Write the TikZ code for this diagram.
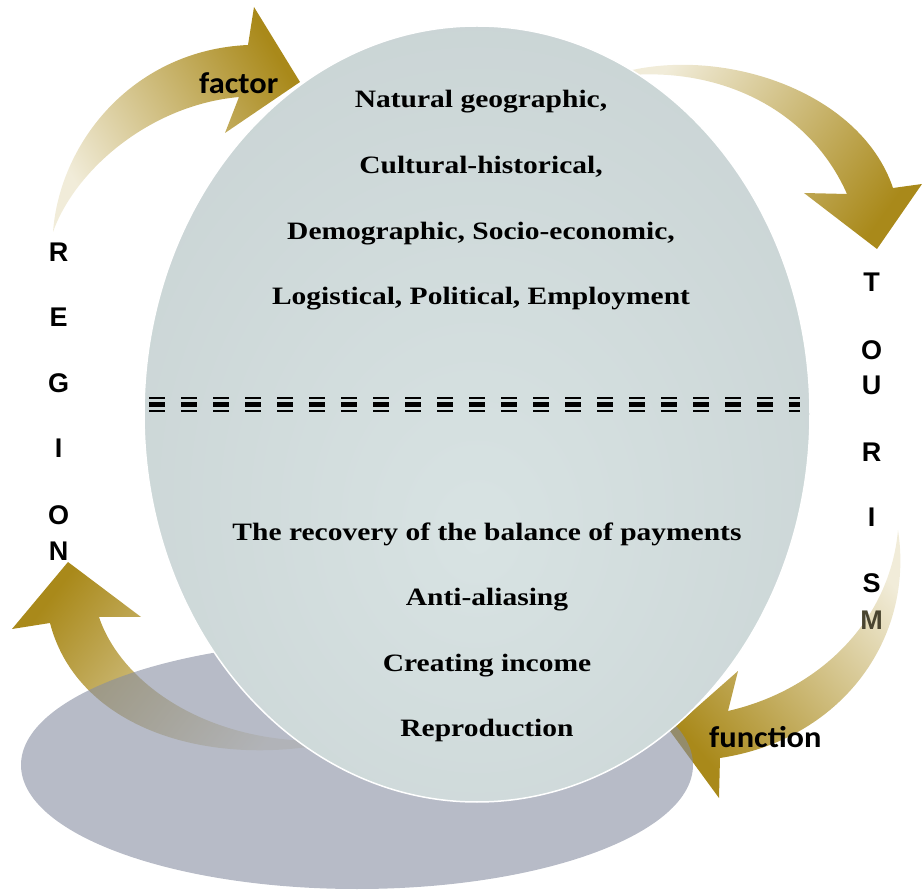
\documentclass[tikz,border=0pt]{standalone}
\usepackage{fontspec}
\setmainfont{Liberation Serif}
\newfontfamily\itemserif[FakeStretch=1.18]{Liberation Serif}
\newfontfamily\lettersans{Liberation Sans}
\newfontfamily\labelsans[FakeStretch=1.08]{Carlito}
\definecolor{goldlight}{HTML}{F1ECD9}
\definecolor{golddark}{HTML}{A9891A}
\definecolor{orbcentre}{HTML}{D8E3E3}
\definecolor{orbedge}{HTML}{C2CCCD}
\definecolor{shadowblue}{HTML}{878EA2}
\definecolor{dimletter}{HTML}{4A4530}
\pgfdeclareradialshading{orbglow}{\pgfpoint{0bp}{-8bp}}{color(0bp)=(orbcentre); color(50bp)=(orbedge); color(70bp)=(orbedge)}
\begin{document}
\begin{tikzpicture}[x=1pt,y=-1pt,
  itemtext/.style={font=\itemserif\fontsize{25}{30}\selectfont\bfseries, anchor=base, inner sep=0pt},
  letterbox/.style={font=\lettersans\fontsize{27}{32}\selectfont\bfseries, anchor=base, inner sep=0pt},
  arrowlabel/.style={font=\labelsans\fontsize{30}{36}\selectfont\bfseries, anchor=base west, inner sep=0pt},
  goldarrow/.style={top color=goldlight, bottom color=golddark},
  sepline/.style={black, dash pattern=on 16pt off 16pt}]
\useasboundingbox (0,0) rectangle (922,890);

% curved block arrows
\shade[goldarrow, shading angle=121]
  (53,232) .. controls (60,140) and (135,50) .. (248,45)
  -- (254,7) -- (300,82) -- (225,133) -- (239,97)
  .. controls (150,105) and (75,170) .. (53,232) -- cycle;
\shade[goldarrow, shading angle=54]
  (620,73) .. controls (720,45) and (860,90) .. (893,188)
  -- (922,184) -- (877,249) -- (804,193) -- (847,194)
  .. controls (810,110) and (720,65) .. (620,76) -- cycle;
\shade[goldarrow, shading angle=-49]
  (898,530) .. controls (915,640) and (840,740) .. (720,758)
  -- (719,798) -- (670,731) -- (738,671) -- (728,711)
  .. controls (820,690) and (890,620) .. (898,530) -- cycle;
\shade[goldarrow, shading angle=-128]
  (68,562) -- (141,617) -- (99,617)
  .. controls (120,680) and (200,740) .. (315,741) -- (315,746)
  .. controls (190,765) and (75,720) .. (50,623) -- (12,629) -- cycle;

% ground shadow
\fill[shadowblue, opacity=0.6] (357,765) ellipse [x radius=336pt, y radius=124pt];

% main orb
\shadedraw[shading=orbglow, draw=white, line width=1.5pt]
  (477,414) ellipse [x radius=333pt, y radius=388pt];

% upper list: factors
\node[itemtext] (f1) at (481,108) {Natural geographic,};
\node[itemtext] (f2) at (481,174) {Cultural-historical,};
\node[itemtext] (f3) at (481,240) {Demographic, Socio-economic,};
\node[itemtext] (f4) at (481,305) {Logistical, Political, Employment};

% separator
\coordinate (sepL) at (149,404.5);
\coordinate (sepR) at (800,404.5);
\draw[sepline, line width=5.5pt] (sepL) -- (sepR);
\draw[sepline, line width=2.6pt] ([yshift=6.3pt]sepL) -- ([yshift=6.3pt]sepR);
\draw[sepline, line width=2.6pt] ([yshift=-6.6pt]sepL) -- ([yshift=-6.6pt]sepR);

% lower list: functions
\node[itemtext] (g1) at (487,541) {The recovery of the balance of payments};
\node[itemtext] (g2) at (487,606) {Anti-aliasing};
\node[itemtext] (g3) at (487,671) {Creating income};
\node[itemtext] (g4) at (487,736) {Reproduction};

% vertical words
\node[letterbox] (r1) at (58.7,262) {R};
\node[letterbox] (r2) at (58.7,327) {E};
\node[letterbox] (r3) at (58.7,393) {G};
\node[letterbox] (r4) at (58.7,458) {I};
\node[letterbox] (r5) at (58.7,525) {O};
\node[letterbox] (r6) at (58.7,561) {N};

\node[letterbox] (t1) at (871.7,292) {T};
\node[letterbox] (t2) at (871.7,360) {O};
\node[letterbox] (t3) at (871.7,395) {U};
\node[letterbox] (t4) at (871.7,462) {R};
\node[letterbox] (t5) at (871.7,527) {I};
\node[letterbox] (t6) at (871.7,593) {S};
\node[letterbox, text=dimletter] (t7) at (871.7,630) {M};

% arrow labels
\node[arrowlabel] (factor) at (199,94) {factor};
\node[arrowlabel] (function) at (709,747) {function};
\end{tikzpicture}
\end{document}
